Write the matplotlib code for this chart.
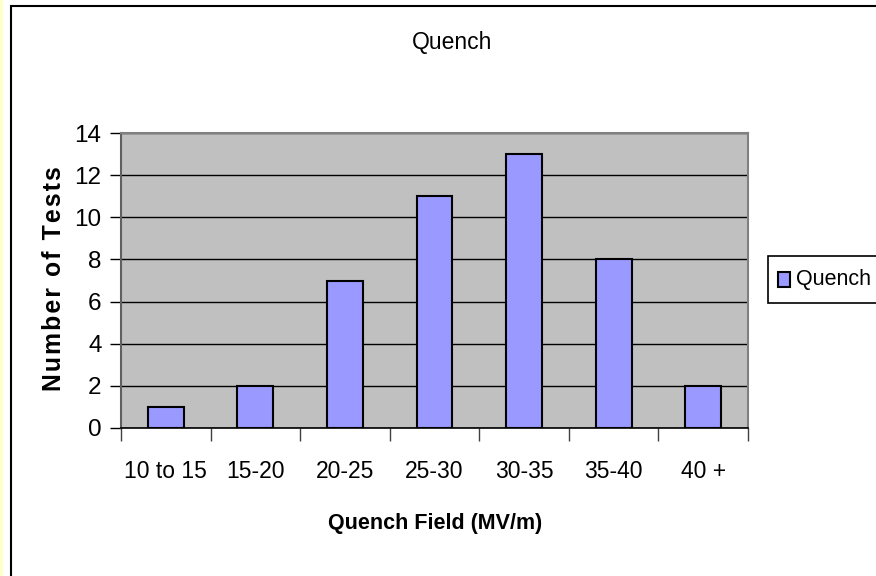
import matplotlib.pyplot as plt
import matplotlib.patches as mpatches
import numpy as np

rangos = ['10 to 15', '15-20', '20-25', '25-30', '30-35', '35-40', '40 +']
pruebas = [1, 2, 7, 11, 13, 8, 2]
ticks_y = [0, 2, 4, 6, 8, 10, 12, 14]

plt.rcParams['font.family'] = ['Liberation Sans', 'DejaVu Sans']

fig = plt.figure(figsize=(8.76, 5.76), dpi=100)
fig.patch.set_facecolor('white')

# franja amarilla del borde y marco del grafico
fig.patches.append(mpatches.Rectangle((0, 0), 2.5 / 876, 1, transform=fig.transFigure,
                                      facecolor='#FFFFC8', edgecolor='none'))
fig.patches.append(mpatches.Rectangle((11 / 876, -0.1), 1.2, 1 - 6 / 576 + 0.1,
                                      transform=fig.transFigure, facecolor='none',
                                      edgecolor='black', linewidth=1.5))

ax = fig.add_axes([121 / 876, 1 - 428 / 576, (748 - 121) / 876, (428 - 133) / 576])
ax.set_facecolor('#C0C0C0')

x = np.arange(len(rangos))
barras = ax.bar(x, pruebas, width=0.4, color='#9999FF', edgecolor='black',
                linewidth=1.5, zorder=3, label='Quench')

ax.set_xlim(-0.5, len(rangos) - 0.5)
ax.set_ylim(0, 14)
ax.set_yticks(ticks_y)
ax.yaxis.grid(True, color='black', linewidth=1.0, zorder=1)
ax.set_axisbelow(True)

# marcas del eje x entre categorias
ax.set_xticks(np.arange(len(rangos) + 1) - 0.5)
ax.set_xticklabels([])
ax.set_xticks(x, minor=True)
ax.set_xticklabels(rangos, minor=True, fontsize=16.5)
ax.tick_params(axis='x', which='minor', length=0, pad=23)
ax.tick_params(axis='x', which='major', length=9, width=1, color='#404040')
ax.tick_params(axis='y', length=8, width=1, labelsize=17.5, pad=6)

for lado in ['top', 'right']:
    ax.spines[lado].set_color('#808080')
    ax.spines[lado].set_linewidth(1.5)
ax.spines['left'].set_color('#606060')
ax.spines['left'].set_linewidth(1.5)
ax.spines['bottom'].set_color('black')
ax.spines['bottom'].set_linewidth(1.2)

fig.text(452 / 876, 1 - 43 / 576, 'Quench', ha='center', va='center', fontsize=16.5)
fig.text(435 / 876, 1 - 524 / 576, 'Quench Field (MV/m)', ha='center', va='center',
         fontsize=15.5, fontweight='bold')
hs = '\u200a'
etiqueta_y = hs.join('Number of Tests')
fig.text(54 / 876, 1 - 279 / 576, etiqueta_y, ha='center', va='center',
         rotation=90, fontsize=17.8, fontweight='bold')

# leyenda
fig.patches.append(mpatches.Rectangle((768 / 876, 1 - 303 / 576), 0.2, 47 / 576,
                                      transform=fig.transFigure, facecolor='white',
                                      edgecolor='black', linewidth=1.2))
fig.patches.append(mpatches.Rectangle((778 / 876, 1 - 287 / 576), 12 / 876, 15 / 576,
                                      transform=fig.transFigure, facecolor='#9999FF',
                                      edgecolor='black', linewidth=1.5))
fig.text(796 / 876, 1 - 279 / 576, 'Quench', ha='left', va='center', fontsize=15.5)

plt.savefig('out.png', dpi=100)
